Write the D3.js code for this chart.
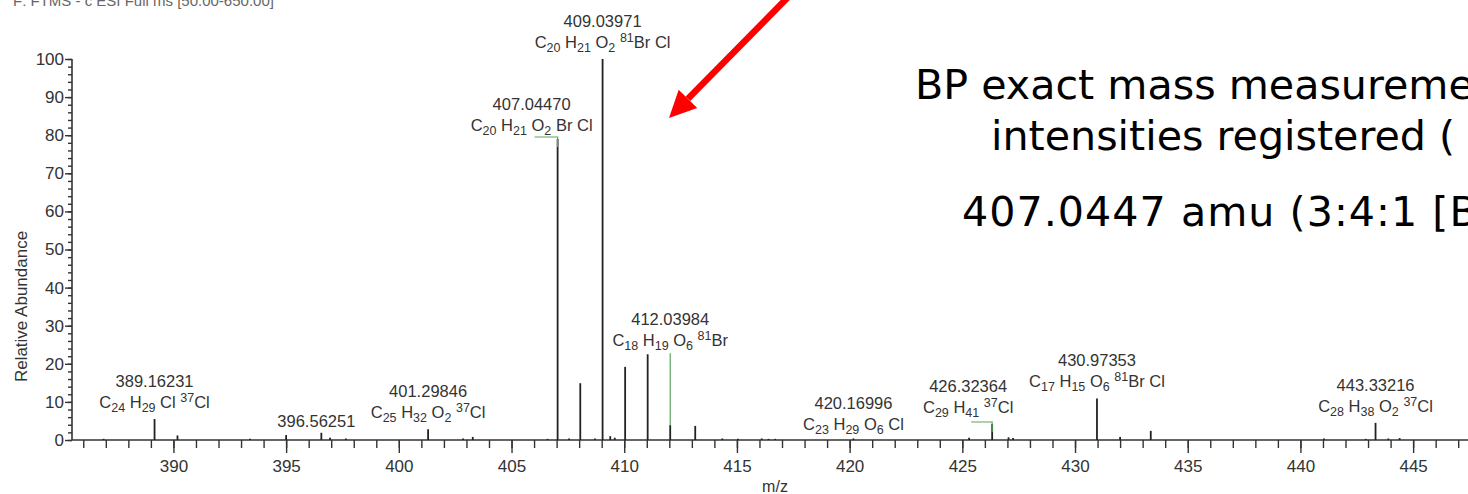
<!DOCTYPE html>
<html lang="en">
<head>
<meta charset="UTF-8">
<title>FTMS spectrum</title>
<script src="https://d3js.org/d3.v7.min.js"></script>
<style>
  body { margin: 0; background: #fff; overflow: hidden; }
  svg { display: block; font-family: "Liberation Sans", Arial, sans-serif; }
  text { white-space: pre; }
</style>
</head>
<body>
<div id="chart"></div>
<script>
// stick spectrum: m/z and relative abundance (%)
const mz = [386.9, 389.16231, 390.18, 393.4, 395.0, 396.56251, 396.95, 397.65, 401.29846, 402.85, 403.28,
  406.6, 407.04470, 407.55, 408.05, 408.7, 409.03971, 409.38, 409.58, 410.04, 411.04, 412.03984, 413.15,
  414.35, 415.05, 416.1, 416.4, 416.7, 420.16996, 425.3, 426.32364, 427.05, 427.25, 430.97353, 432.0,
  433.36, 441.05, 442.9, 443.33216, 443.9, 444.4];
const abundance = [0.3, 5.5, 1.2, 0.3, 1.3, 1.9, 0.6, 0.4, 2.8, 0.4, 0.8,
  0.3, 79, 0.4, 14.9, 0.4, 100, 1.0, 0.6, 19.2, 22.5, 3.9, 3.7,
  0.4, 0.3, 0.4, 0.3, 0.3, 0.4, 0.6, 4.2, 0.7, 0.5, 10.9, 0.8,
  2.4, 0.4, 0.3, 4.5, 0.4, 0.5];

// annotated peaks
const labelMz = [389.16231, 396.56251, 401.29846, 407.04470, 409.03971, 412.03984, 420.16996, 426.32364, 430.97353, 443.33216];
const labelFormula = ["C_24 H_29 Cl ^37Cl", "", "C_25 H_32 O_2 ^37Cl", "C_20 H_21 O_2 Br Cl", "C_20 H_21 O_2 ^81Br Cl",
  "C_18 H_19 O_6 ^81Br", "C_23 H_29 O_6 Cl", "C_29 H_41 ^37Cl", "C_17 H_15 O_6 ^81Br Cl", "C_28 H_38 O_2 ^37Cl"];

const yTicks = [0, 10, 20, 30, 40, 50, 60, 70, 80, 90, 100];
const xTicks = [390, 395, 400, 405, 410, 415, 420, 425, 430, 435, 440, 445];

const headerText = "F: FTMS - c ESI Full ms [50.00-650.00]";
const noteLines = ["BP exact mass measurement", "intensities registered (", "407.0447 amu (3:4:1 [Br Cl])"];

// layout
const W = 1468, H = 494;
const x = d3.scaleLinear().domain([385.5, 450]).range([72, 72 + 64.5 * 22.54]);
const y = d3.scaleLinear().domain([0, 100]).range([440, 59]);

// label nudges where the plain "centred above peak" spot collides
const nudge = {
  396.56251: { dx: -5, dy: 5 },
  407.04470: { dx: -26, dy: 3, lead: "h" },
  412.03984: { dx: 0, dy: -68, lead: "v" },
  420.16996: { dx: 0, dy: 3 },
  426.32364: { dx: -24, dy: 0, lead: "h" }
};

const svg = d3.select("#chart").append("svg")
  .attr("width", W).attr("height", H);

svg.append("rect").attr("width", W).attr("height", H).attr("fill", "#fff");

// header (cut off at top)
svg.append("text")
  .attr("x", 13).attr("y", 6)
  .attr("font-size", 15).attr("fill", "#666")
  .text(headerText);

// y axis
const yMinor = svg.append("g").attr("transform", `translate(${x.range()[0]},0)`)
  .call(d3.axisLeft(y).tickValues(d3.range(0, 101, 2)).tickSize(4).tickFormat(""));
yMinor.select(".domain").remove();

svg.append("g").attr("transform", `translate(${x.range()[0]},0)`)
  .call(d3.axisLeft(y).tickValues(yTicks).tickSize(7).tickPadding(1))
  .call(g => g.select(".domain").remove())
  .call(g => g.selectAll("text").attr("font-size", 17).attr("fill", "#333")
    .attr("font-family", "Liberation Sans, Arial, sans-serif"));

// x axis
const xMinor = svg.append("g").attr("transform", `translate(0,${y(0)})`)
  .call(d3.axisBottom(x).tickValues(d3.range(386, 450)).tickSize(8).tickFormat(""));
xMinor.select(".domain").remove();

svg.append("g").attr("transform", `translate(0,${y(0)})`)
  .call(d3.axisBottom(x).tickValues(xTicks).tickSize(13).tickPadding(7))
  .call(g => g.select(".domain").remove())
  .call(g => g.selectAll("text").attr("font-size", 17).attr("fill", "#333")
    .attr("font-family", "Liberation Sans, Arial, sans-serif"));

svg.selectAll(".tick line").attr("stroke", "#333").attr("stroke-width", 1.4);

// axis lines
svg.append("line")
  .attr("x1", x.range()[0]).attr("x2", x.range()[0])
  .attr("y1", y(100)).attr("y2", y(0))
  .attr("stroke", "#333").attr("stroke-width", 1.6);
svg.append("line")
  .attr("x1", x.range()[0]).attr("x2", x.range()[1])
  .attr("y1", y(0)).attr("y2", y(0))
  .attr("stroke", "#333").attr("stroke-width", 1.6);

// axis titles
svg.append("text")
  .attr("transform", `translate(27,${(y(0) + y(100)) / 2 + 57}) rotate(-90)`)
  .attr("text-anchor", "middle")
  .attr("font-size", 17).attr("fill", "#333")
  .text("Relative Abundance");

svg.append("text")
  .attr("x", 775).attr("y", 492)
  .attr("text-anchor", "middle")
  .attr("font-size", 16).attr("fill", "#333")
  .text("m/z");

// sticks
const peaks = mz.map((m, i) => ({ m, a: abundance[i] }));
svg.append("g").selectAll("line")
  .data(peaks)
  .join("line")
  .attr("x1", d => x(d.m)).attr("x2", d => x(d.m))
  .attr("y1", y(0)).attr("y2", d => y(d.a))
  .attr("stroke", "#222").attr("stroke-width", 1.8);

// peak labels
function addFormula(t, formula) {
  const parts = formula.match(/_\d+|\^\d+|[^_^]+/g) || [];
  let shift = 0;
  parts.forEach(p => {
    let s = 0, txt = p, size = null;
    if (p[0] === "_") { s = 4; txt = p.slice(1); size = 12.5; }
    else if (p[0] === "^") { s = -6; txt = p.slice(1); size = 12.5; }
    t.append("tspan").attr("dy", s - shift).attr("font-size", size).text(txt);
    shift = s;
  });
}

const labels = svg.append("g").attr("font-size", 16.5).attr("fill", "#333").attr("text-anchor", "middle");
labelMz.forEach((m, i) => {
  const a = abundance[mz.indexOf(m)];
  const n = nudge[m] || { dx: 0, dy: 0 };
  const px = x(m), top = y(a);
  const cx = px + n.dx;
  const fy = top - 11 + n.dy;              // baseline of the lower line
  const hasFormula = labelFormula[i] !== "";
  labels.append("text")
    .attr("x", cx).attr("y", hasFormula ? fy - 21 : fy)
    .text(m.toFixed(5));
  if (hasFormula) {
    const t = labels.append("text").attr("x", cx).attr("y", fy);
    addFormula(t, labelFormula[i]);
  }
  if (n.lead === "h") {
    svg.append("path")
      .attr("d", `M${cx + 3},${top - 2}H${px}V${top + 8}`)
      .attr("fill", "none").attr("stroke", "#5aa55a").attr("stroke-width", 1.2);
  } else if (n.lead === "v") {
    svg.append("line")
      .attr("x1", px).attr("x2", px)
      .attr("y1", fy + 7).attr("y2", top)
      .attr("stroke", "#5aa55a").attr("stroke-width", 1.2);
  }
});

// red arrow
const tip = [669, 118], tail = [800, -15];
const ang = Math.atan2(tip[1] - tail[1], tip[0] - tail[0]);
const hl = 27, hw = 13;
const bx = tip[0] - hl * Math.cos(ang), by = tip[1] - hl * Math.sin(ang);
svg.append("line")
  .attr("x1", tail[0]).attr("y1", tail[1]).attr("x2", bx).attr("y2", by)
  .attr("stroke", "#ff0000").attr("stroke-width", 6.5);
svg.append("path")
  .attr("d", d3.line()([
    tip,
    [bx + hw * Math.sin(ang), by - hw * Math.cos(ang)],
    [bx - hw * Math.sin(ang), by + hw * Math.cos(ang)]
  ]) + "Z")
  .attr("fill", "#ff0000");

// side note (text box runs past the right edge)
const note = svg.append("g").attr("font-family", "DejaVu Sans, Verdana, sans-serif")
  .attr("font-size", 40).attr("fill", "#000");
[[915, 99, 0], [991, 150, 0], [962, 226, 1]].forEach((p, i) => {
  note.append("text")
    .attr("transform", `translate(${p[0]},${p[1]}) scale(1.03,1)`)
    .attr("letter-spacing", p[2])
    .text(noteLines[i]);
});
</script>
</body>
</html>
